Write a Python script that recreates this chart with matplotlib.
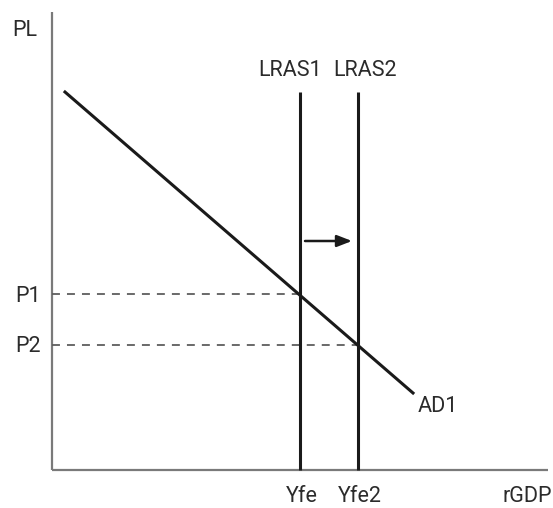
import matplotlib
matplotlib.use("Agg")
import matplotlib.pyplot as plt

# AD-AS diagram: long run aggregate supply shifts right
ad_x = [13, 361]
ad_y = [378, 77]
lras_x = [248, 306]
lras_top = 378
lras_labels = ["LRAS1", "LRAS2"]
yfe_labels = ["Yfe", "Yfe2"]
price_levels = [176, 125]
price_labels = ["P1", "P2"]
arrow_y = 229
arrow_from, arrow_to = 253, 300

plt.rcParams["font.family"] = ["Roboto", "DejaVu Sans"]
txt = "#2b2b2b"
fs = 15.5

fig = plt.figure(figsize=(5.53, 5.08), dpi=100)
W, H = 553, 508
ax = fig.add_axes([52 / W, (H - 470) / H, 496 / W, 458 / H])
ax.set_xlim(0, 496)
ax.set_ylim(0, 458)
ax.axis("off")

# axes lines
ax.plot([0, 0], [0, 458], color="#7a7a7a", lw=1.6, solid_capstyle="butt", clip_on=False)
ax.plot([0, 496], [0, 0], color="#7a7a7a", lw=1.6, solid_capstyle="butt", clip_on=False)

# dashed price lines
for p, x in zip(price_levels, lras_x):
    ax.plot([0, x], [p, p], color="#5e5e5e", lw=1.3, dashes=(4.4, 3.9), clip_on=False)

# LRAS lines
for x in lras_x:
    ax.plot([x, x], [0, lras_top], color="#1a1a1a", lw=2.2, solid_capstyle="butt", clip_on=False)

# AD line
ax.plot(ad_x, ad_y, color="#1a1a1a", lw=2.2, clip_on=False)

# shift arrow
ax.annotate("", xy=(arrow_to, arrow_y), xytext=(arrow_from, arrow_y),
            arrowprops=dict(arrowstyle="-|>,head_length=0.9,head_width=0.35",
                            color="#1a1a1a", lw=1.8, shrinkA=0, shrinkB=0))

# labels
kw = dict(fontsize=fs, color=txt, ha="center", va="center", clip_on=False)
ax.text(-27, 440, "PL", **kw)
ax.text(475, -27, "rGDP", **kw)
for x, lab, dx in zip(lras_x, lras_labels, [-10, 7]):
    ax.text(x + dx, 400, lab, **kw)
for x, lab, dx in zip(lras_x, yfe_labels, [2, 2]):
    ax.text(x + dx, -27, lab, **kw)
for p, lab in zip(price_levels, price_labels):
    ax.text(-24, p - 2, lab, **kw)
ax.text(ad_x[1] + 25, ad_y[1] - 13, "AD1", **kw)

fig.savefig("out.png", dpi=100, facecolor="white")
